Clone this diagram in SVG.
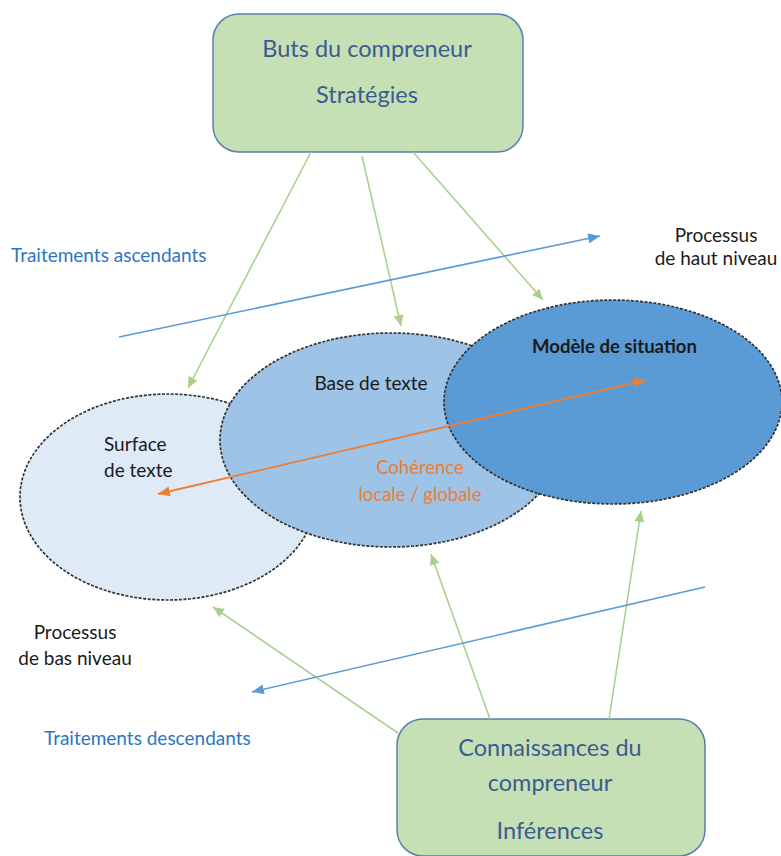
<svg xmlns="http://www.w3.org/2000/svg" width="781" height="856" viewBox="0 0 781 856">
<style>
.box{fill:#c5e0b4;stroke:#5a7fae;stroke-width:1.5}
.btxt{font-family:Lato,"Liberation Sans",sans-serif;font-size:23.5px;fill:#3b5b92;text-anchor:middle}
.ell{stroke:#333;stroke-width:1.7;stroke-dasharray:3 1.5}
.lbl{font-family:Lato,"Liberation Sans",sans-serif;font-size:19px;fill:#1a1a1a}
.blue{font-family:Lato,"Liberation Sans",sans-serif;font-size:19px;fill:#2e75c0}
.or{font-family:Lato,"Liberation Sans",sans-serif;font-size:18.5px;fill:#ed7d31;text-anchor:middle}
.g{stroke:#a9d18e;stroke-width:1.6;fill:none;marker-end:url(#ag)}
.b{stroke:#5b9bd5;stroke-width:1.6;fill:none;marker-end:url(#ab)}
</style>
<defs>
<marker id="ag" markerUnits="userSpaceOnUse" markerWidth="12" markerHeight="10" refX="11" refY="5" orient="auto"><path d="M0,0 L11,5 L0,10 Z" fill="#a9d18e"/></marker>
<marker id="ab" markerUnits="userSpaceOnUse" markerWidth="13" markerHeight="10" refX="12" refY="5" orient="auto"><path d="M0,0 L12,5 L0,10 Z" fill="#5b9bd5"/></marker>
<marker id="ao" markerUnits="userSpaceOnUse" markerWidth="13" markerHeight="10" refX="12" refY="5" orient="auto-start-reverse"><path d="M0,0 L12,5 L0,10 Z" fill="#ed7d31"/></marker>
</defs>

<g id="surface">
<ellipse class="ell" cx="168" cy="497" rx="148" ry="103" fill="#deebf7"/>
<text class="lbl" x="104" y="451">Surface</text>
<text class="lbl" x="104" y="477">de texte</text>
</g>
<g id="base">
<ellipse class="ell" cx="391" cy="440" rx="171" ry="107" fill="#9dc3e6"/>
<text class="lbl" x="371" y="390" text-anchor="middle">Base de texte</text>
</g>
<g id="modele">
<ellipse class="ell" cx="613" cy="402" rx="169" ry="102" fill="#5b9bd5"/>
<text class="lbl" x="532" y="353" font-weight="bold" textLength="165" lengthAdjust="spacingAndGlyphs">Modèle de situation</text>
</g>
<g id="coherence">
<text class="or" x="420" y="474">Cohérence</text>
<text class="or" x="420" y="501">locale / globale</text>
</g>

<g id="buts">
<rect class="box" x="213" y="14" width="310" height="138" rx="26"/>
<text class="btxt" x="367" y="57">Buts du compreneur</text>
<text class="btxt" x="367" y="103">Stratégies</text>
</g>
<g id="connaissances">
<rect class="box" x="397" y="719" width="308" height="137" rx="26"/>
<text class="btxt" x="550" y="756">Connaissances du</text>
<text class="btxt" x="550" y="791">compreneur</text>
<text class="btxt" x="550" y="839">Inférences</text>
</g>

<g id="labels">
<text class="blue" x="11" y="262">Traitements ascendants</text>
<text class="blue" x="44" y="745">Traitements descendants</text>
<text class="lbl" x="716" y="242" text-anchor="middle">Processus</text>
<text class="lbl" x="716" y="265" text-anchor="middle">de haut niveau</text>
<text class="lbl" x="75" y="639" text-anchor="middle">Processus</text>
<text class="lbl" x="75" y="665" text-anchor="middle">de bas niveau</text>
</g>

<g id="connectors">
<line class="g" x1="311" y1="152" x2="188" y2="388"/>
<line class="g" x1="362" y1="156" x2="401" y2="326"/>
<line class="g" x1="413" y1="152" x2="543" y2="300"/>
<line class="g" x1="398" y1="733" x2="213" y2="607"/>
<line class="g" x1="490" y1="719" x2="431" y2="554"/>
<line class="g" x1="609" y1="719" x2="641" y2="511"/>
<line class="b" x1="119" y1="337" x2="600" y2="236"/>
<line class="b" x1="705" y1="587" x2="252" y2="692"/>
<line stroke="#ed7d31" stroke-width="1.8" marker-start="url(#ao)" marker-end="url(#ao)" x1="158" y1="494" x2="646" y2="380"/>
</g>
</svg>
